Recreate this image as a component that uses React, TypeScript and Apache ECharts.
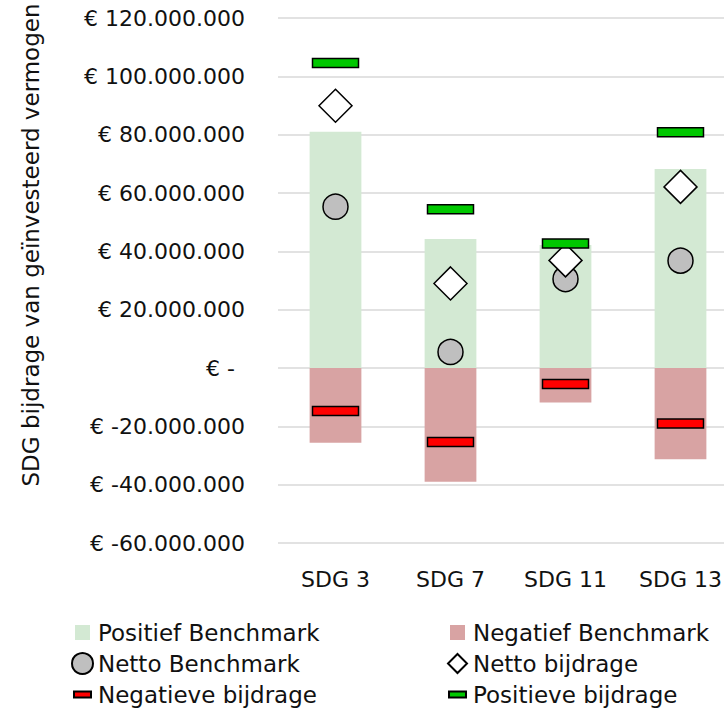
import React, { useEffect, useRef } from "react";
import * as echarts from "echarts";

const categories = ["SDG 3", "SDG 7", "SDG 11", "SDG 13"];
const positiefBenchmark = [81000000, 44200000, 42200000, 68200000];
const negatiefBenchmark = [-25600000, -39000000, -11800000, -31300000];
const nettoBenchmark = [55300000, 5500000, 30500000, 36800000];
const nettoBijdrage = [89900000, 29000000, 36900000, 62100000];
const negatieveBijdrage = [-14700000, -25400000, -5500000, -19000000];
const positieveBijdrage = [104600000, 54400000, 42700000, 80800000];
const tickLabels = [
  "€ -60.000.000",
  "€ -40.000.000",
  "€ -20.000.000",
  "€ -",
  "€ 20.000.000",
  "€ 40.000.000",
  "€ 60.000.000",
  "€ 80.000.000",
  "€ 100.000.000",
  "€ 120.000.000",
];
const yTitle = "SDG bijdrage van geïnvesteerd vermogen";

const FONT = "DejaVu Sans";
const TXT = "#111111";

function dashRender(fill: string) {
  return (params: any, api: any) => {
    const p = api.coord([api.value(0), api.value(1)]);
    return {
      type: "rect",
      shape: { x: p[0] - 23, y: p[1] - 4.5, width: 46, height: 9 },
      style: { fill, stroke: "#000", lineWidth: 1.5 },
    };
  };
}

export default function App() {
  const ref = useRef<HTMLDivElement>(null);
  useEffect(() => {
    if (!ref.current) return;
    const chart = echarts.init(ref.current, null, { renderer: "svg" });
    const sq = "path://M0,0M21,21M3,3L18,3L18,18L3,18Z";
    const dash = "path://M0,0M21,21M2,7.5L19,7.5L19,13.5L2,13.5Z";
    const dia = "path://M0,0M21,21M10.5,1L20,10.5L10.5,20L1,10.5Z";
    const legendCommon = {
      orient: "vertical" as const,
      itemWidth: 21,
      itemHeight: 21,
      itemGap: 8,
      height: 120,
      selectedMode: false,
      textStyle: { fontFamily: FONT, fontSize: 23, color: TXT },
    };
    chart.setOption({
      animation: false,
      backgroundColor: "#ffffff",
      grid: {
        left: 278,
        right: -14,
        top: 18,
        bottom: 167,
        containLabel: false,
        outerBoundsMode: "none",
      },
      xAxis: {
        type: "category",
        data: categories,
        axisLine: { show: false, onZero: false },
        axisTick: { show: false },
        axisLabel: { fontFamily: FONT, fontSize: 22, color: TXT, margin: 25 },
        splitLine: { show: false },
      },
      yAxis: {
        type: "value",
        min: -60000000,
        max: 120000000,
        interval: 20000000,
        axisLine: { show: false },
        axisTick: { show: false },
        splitLine: { lineStyle: { color: "#d9d9d9", width: 1.5 } },
        axisLabel: {
          fontFamily: FONT,
          fontSize: 22,
          color: TXT,
          margin: 33,
          formatter: (v: number) => {
            const idx = Math.round((v + 60000000) / 20000000);
            const t = tickLabels[idx] ?? "";
            return v === 0 ? "{z|" + t + "}" : t;
          },
          rich: {
            z: { fontFamily: FONT, fontSize: 22, color: TXT, padding: [0, 10, 0, 0] },
          },
        },
      },
      legend: [
        {
          ...legendCommon,
          left: 66,
          top: 616,
          data: [
            { name: "Positief Benchmark", icon: sq },
            { name: "Netto Benchmark", icon: "circle" },
            { name: "Negatieve bijdrage", icon: dash },
          ],
        },
        {
          ...legendCommon,
          left: 441,
          top: 616,
          data: [
            { name: "Negatief Benchmark", icon: sq },
            { name: "Netto bijdrage", icon: dia },
            { name: "Positieve bijdrage", icon: dash },
          ],
        },
      ],
      graphic: [
        {
          type: "text",
          x: 31,
          y: 245,
          rotation: Math.PI / 2,
          style: {
            text: yTitle,
            fontFamily: FONT,
            fontSize: 23,
            fill: TXT,
            align: "center",
            verticalAlign: "middle",
          },
        },
      ],
      series: [
        {
          name: "Positief Benchmark",
          type: "bar",
          z: 2,
          data: positiefBenchmark,
          barWidth: "45%",
          barGap: "-100%",
          itemStyle: { color: "#d3e9d3" },
        },
        {
          name: "Negatief Benchmark",
          type: "bar",
          z: 2,
          data: negatiefBenchmark,
          barWidth: "45%",
          barGap: "-100%",
          itemStyle: { color: "#d8a3a3" },
        },
        {
          name: "Netto Benchmark",
          type: "scatter",
          z: 3,
          data: nettoBenchmark,
          symbol: "circle",
          symbolSize: 25,
          itemStyle: { color: "#bfbfbf", borderColor: "#000", borderWidth: 1.5, opacity: 1 },
        },
        {
          name: "Netto bijdrage",
          type: "scatter",
          z: 4,
          data: nettoBijdrage,
          symbol: "diamond",
          symbolSize: 33,
          itemStyle: { color: "#ffffff", borderColor: "#000", borderWidth: 1.5, opacity: 1 },
        },
        {
          name: "Negatieve bijdrage",
          type: "custom",
          z: 5,
          data: negatieveBijdrage.map((v, i) => [i, v]),
          encode: { x: 0, y: 1 },
          renderItem: dashRender("#ff0000"),
          itemStyle: { color: "#ff0000", borderColor: "#000", borderWidth: 1.5 },
        },
        {
          name: "Positieve bijdrage",
          type: "custom",
          z: 6,
          data: positieveBijdrage.map((v, i) => [i, v]),
          encode: { x: 0, y: 1 },
          renderItem: dashRender("#00c800"),
          itemStyle: { color: "#00c800", borderColor: "#000", borderWidth: 1.5 },
        },
      ],
    });
    return () => chart.dispose();
  }, []);
  return (
    <div
      ref={ref}
      style={{ position: "fixed", left: 0, top: 0, width: 724, height: 710, background: "#fff" }}
    />
  );
}
